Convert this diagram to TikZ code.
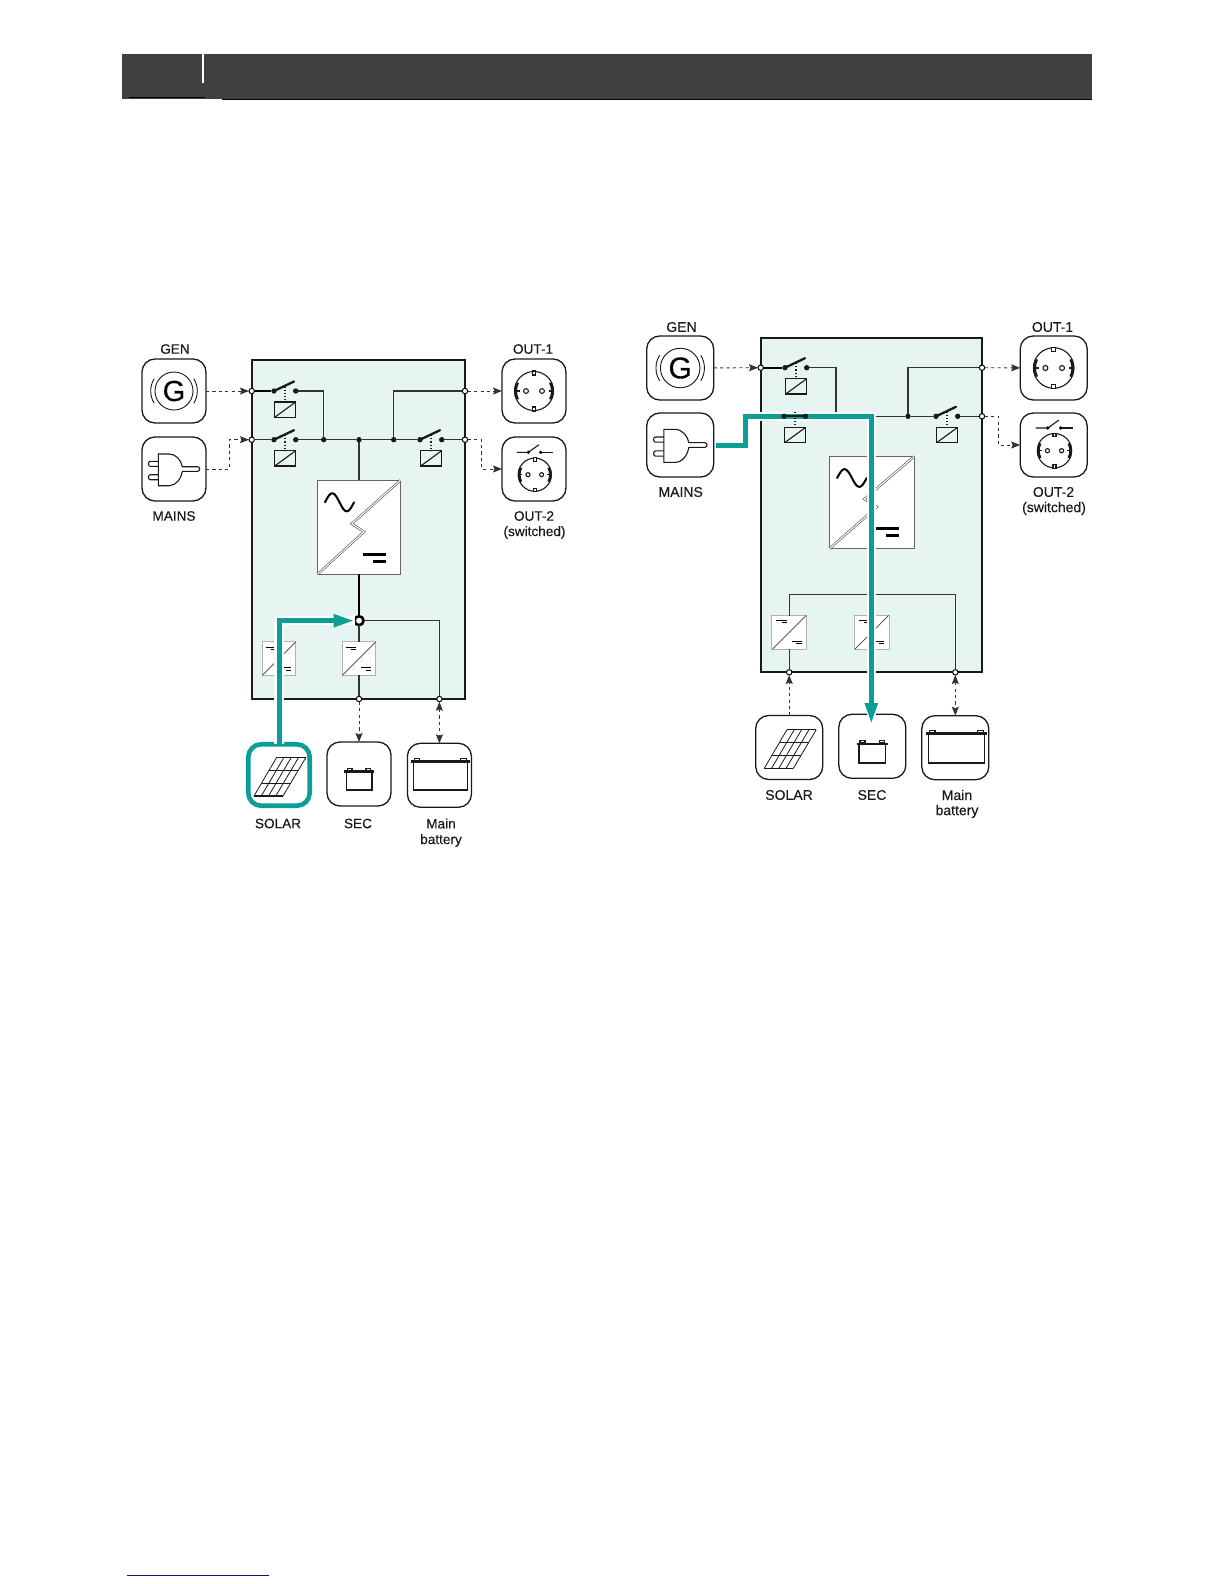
\documentclass[tikz,border=0pt]{standalone}
\usepackage{fontspec}
\setmainfont{Liberation Sans}
\newfontfamily\lblfont[FakeBold=0.25]{Liberation Sans}
\usepackage{tikz}
\usetikzlibrary{arrows.meta, calc}
\definecolor{flowteal}{HTML}{0B9E96}
\definecolor{boxmint}{HTML}{E6F5F2}
\definecolor{headgrey}{HTML}{404040}
\definecolor{linkblue}{HTML}{10108F}
\tikzset{
    frame/.style={draw=black!90,fill=boxmint,line width=2,minimum width=#1,inner sep=0,outer sep=0},
    tile/.style={draw=black!90,line width=1.3,rounded corners=13,minimum width=64,minimum height=64,inner sep=0,outer sep=0},
    lbl/.style={font=\lblfont\fontsize{13.6}{16}\selectfont,text=black!90,inner sep=0},
    rlbl/.style={lbl,font=\lblfont\fontsize{14}{16}\selectfont},
    wire/.style={draw=black!80,line width=1.2},
    boldwire/.style={draw=black,line width=2},
    blade/.style={draw=black!90,line width=2.3,line cap=round},
    icon/.style={draw=black!90,line width=1.1},
    jdot/.style={circle,fill=black!90,minimum size=5.4,inner sep=0,outer sep=0},
    termdot/.style={circle,draw=black,fill=white,line width=1,minimum size=5.4,inner sep=0,outer sep=0},
    dashflow/.style={draw=black!80,line width=.9,dash pattern=on 3.2pt off 3.2pt,-{Stealth[length=9pt,width=7pt,inset=1.5pt]}},
    bothflow/.style={dashflow,{Stealth[length=9pt,width=7pt,inset=1.5pt]}-{Stealth[length=9pt,width=7pt,inset=1.5pt]}},
    flowhalo/.style={draw=white,line width=9.5},
    flowline/.style={draw=flowteal,line width=5,-{Triangle[length=21pt,width=12pt]}},
    convbox/.style={draw=black!30,fill=white,line width=1,minimum width=33.5,minimum height=33.5,inner sep=0,outer sep=0},
    invbox/.style={draw=black!60,fill=white,line width=.9,minimum width=83,minimum height=94,inner sep=0,outer sep=0},
    pics/relaybox/.style={code={
        \draw[icon,dotted,line width=1.3] (11,-4.5) -- (11,11);
        \draw[icon,line width=1.3] (.7,11) rectangle (21.7,26.3);
        \draw[icon,line width=1.1] (.7,26.3) -- (21.7,11);
    }},
    pics/genicon/.style={code={
        \draw[icon,line width=.9] (0,0) circle[radius=19];
        \foreach \a in {0,180}{
            \draw[icon,line width=.9] (\a-32:23.3) arc[start angle=\a-32,end angle=\a+32,radius=23.3];
        }
        \node[font=\lblfont\fontsize{29}{29}\selectfont,inner sep=0,transform shape] (-g) at (0,0) {G};
    }},
    pics/plugicon/.style={code={
        \draw[icon] (-15.7,-15) -- (-5,-15) .. controls (2,-15) and (7,-9) .. (8.3,-2.3) -- (23.5,-2.3) .. controls (26.5,-2.3) and (26.5,2.3) .. (23.5,2.3) -- (8.3,2.3) .. controls (7,10) and (2,16.7) .. (-5,16.7) -- (-15.7,16.7) -- cycle;
        \draw[icon,rounded corners=2] (-15.7,-7.7) -- (-25.5,-7.7) -- (-25.5,-2.7) -- (-15.7,-2.7);
        \draw[icon,rounded corners=2] (-15.7,5.7) -- (-25.5,5.7) -- (-25.5,10.7) -- (-15.7,10.7);
    }},
    pics/socketicon/.style={code={
        \draw[icon] (0,0) circle[radius=19.5];
        \foreach \s in {-1,1}{
            \draw[icon] (\s*8,0) circle[radius=2.4];
            \draw[icon,fill=white] (-1.7,\s*20) rectangle (1.7,\s*16);
            \draw[icon,line width=1.4] (\s*19.5,0) -- (\s*14.5,0);
        }
        \foreach \a in {0,180}{
            \draw[icon,line width=2.8] (\a-27:18.4) arc[start angle=\a-27,end angle=\a+27,radius=18.4];
        }
    }},
    pics/swsign/.style={code={
        \draw[icon] (-17.3,0) -- (-5.7,0) -- (5,-7.6);
        \draw[icon] (6.7,0) -- (19,0);
        \fill[black] (-5.7,0) circle[radius=1.8] (6.7,0) circle[radius=1.8];
    }},
    pics/solaricon/.style={code={
        \foreach \t in {0,.25,.5,.75,1}{
            \draw[icon,line width=.8] (-2.3+29.3*\t,-17.7) -- (-25+29*\t,21);
        }
        \foreach \t in {0,.333,.667,1}{
            \draw[icon,line width=1.1] (-2.3-22.7*\t,-17.7+38.7*\t) -- (27-23*\t,-17.7+38.7*\t);
        }
    }},
    pics/secicon/.style={code={
        \draw[icon,line width=1.4] (-12.8,-2.3) rectangle (12.8,16);
        \draw[icon,line width=2.6] (-15,-2.3) -- (15,-2.3);
        \draw[icon] (-11.8,-5.6) rectangle (-7,-3.4) (7,-5.6) rectangle (11.8,-3.4);
    }},
    pics/batticon/.style={code={
        \draw[icon,line width=1.4] (-27,-12.6) rectangle (27,14.7);
        \draw[icon,line width=2.6] (-29.4,-13.6) -- (29.4,-13.6);
        \draw[icon] (-26,-16.8) rectangle (-20.5,-14.6) (20.5,-16.8) rectangle (26,-14.6);
    }},
    pics/invicon/.style={code={
        \draw[draw=black!70,double=white,double distance=1.1,line width=.6] (41.5,-47) -- (-7.3,-3.5) -- (5,4.5) -- (-41.5,47);
        \draw[black,line width=2,line cap=round,smooth] plot[domain=0:360,samples=30] ({-34+\x/360*29},{-25-9*sin(\x)});
        \draw[black,line width=3] (3.7,27) -- (27,27);
        \draw[black,line width=3] (14.3,34) -- (27,34);
    }},
    pics/convicon/.style={code={
        \draw[draw=black!75,line width=.7] (-16.7,16.7) -- (16.7,-16.7);
        \draw[black,line width=1] (-13.3,-11.7) -- (-2.7,-11.7) (-7.7,-9.7) -- (-2.7,-9.7);
        \draw[black,line width=1] (2.3,8.7) -- (12.3,8.7) (6.7,11.3) -- (12.3,11.3);
    }},
}
\newcommand{\SwitchOpen}[3]{
    \node[jdot] (#1a) at (#2,#3) {};
    \node[jdot] (#1b) at ($(#1a)+(21.7,0)$) {};
    \draw[blade] (#1a.center) -- ++(20,-9.5);
    \pic at (#1a) {relaybox};
}
\begin{document}
\begin{tikzpicture}[x=1pt,y=-1pt]
    \useasboundingbox (0,0) rectangle (1224,1584);
    % page header and footer rule
    \fill[headgrey] (122,54) rectangle (1092,99.3);
    \draw[black,line width=.5] (129,97) -- (205,97);
    \draw[black,line width=.8] (222,99) -- (1092,99);
    \draw[white,line width=1.6] (202.7,54) -- (202.7,83);
    \draw[linkblue,line width=1] (126.7,1575.3) -- (268.7,1575.3);

    % ---- left panel
    \node[frame=213.3,minimum height=339] (Lbox) at (358.4,529.5) {};
    \node[tile] (Lgen) at (174,391) {};
    \node[tile] (Lmains) at (174,469) {};
    \node[tile] (Lout1) at (534,391) {};
    \node[tile] (Lout2) at (534,469) {};
    \node[tile,draw=flowteal,line width=4.6,minimum width=61.5,minimum height=61.5] (Lsolar) at (279,775) {};
    \node[tile] (Lsec) at (359,774) {};
    \node[tile] (Lmainb) at (439.4,775.3) {};
    \pic (Lgi) at (Lgen) {genicon};
    \pic at (Lmains) {plugicon};
    \pic at (Lout1) {socketicon};
    \pic[scale=.85] at ($(Lout2)+(.8,5.7)$) {socketicon};
    \pic at ($(Lout2)+(0,-16.7)$) {swsign};
    \pic at (Lsolar) {solaricon};
    \pic at (Lsec) {secicon};
    \pic at ($(Lmainb)+(1,0)$) {batticon};

    \node[termdot] (Lt1) at (251.7,391) {};
    \node[termdot] (Lt2) at (251.7,439.7) {};
    \node[termdot] (Lt3) at (465,391) {};
    \node[termdot] (Lt4) at (465,439.7) {};
    \node[termdot] (Lt5) at (359,699) {};
    \node[termdot] (Lt6) at (439.4,699) {};
    \node[jdot] (Lj1) at (323.7,439.7) {};
    \node[jdot] (Lj2) at (359,439.7) {};
    \node[jdot] (Lj3) at (393.7,439.7) {};
    \SwitchOpen{Ls1}{274}{391}
    \SwitchOpen{Ls2}{274}{439.7}
    \SwitchOpen{Ls3}{420}{439.7}
    \node[invbox] (Linv) at (359,527.3) {};
    \pic at (Linv) {invicon};
    \node[convbox] (Lc1) at (279,658.7) {};
    \node[convbox] (Lc2) at (359,658.7) {};
    \pic at (Lc1) {convicon};
    \pic at (Lc2) {convicon};
    \coordinate (Lmb) at (229.3,439.7);
    \coordinate (Lob) at (481.7,469);

    \draw[boldwire] (Lt1) -- (Ls1a);
    \draw[wire,line width=1.4] (Ls1b) -| (Lj1);
    \draw[wire] (Lt2) -- (Ls2a);
    \draw[wire] (Ls2b) -- (Lj1) -- (Lj2) -- (Lj3) -- (Ls3a);
    \draw[wire] (Ls3b) -- (Lt4);
    \draw[wire,line width=1.4] (Lj3) |- (Lt3);
    \draw[wire] (Lj2) -- (Linv);
    \node[circle,draw=black,fill=white,line width=2.6,minimum size=9,inner sep=0,outer sep=0] (Lhub) at (359,620.7) {};
    \draw[draw=black,line width=2.6] (Linv) -- (Lhub);
    \draw[wire] (Lhub) -| (Lt6);
    \draw[wire,line width=1.4] (Lhub) -- (Lc2);
    \draw[wire,line width=1.4] (Lc2) -- (Lt5);
    \draw[dashflow] (Lgen) -- (Lt1);
    \draw[dashflow] (Lmains) -| (Lmb) -- (Lt2);
    \draw[dashflow] (Lt3) -- (Lout1);
    \draw[dashflow] (Lt4) -| (Lob) -- (Lout2);
    \draw[dashflow] (Lt5) -- (Lsec);
    \draw[bothflow] (Lt6) -- (Lmainb);
    \draw[flowhalo] (Lsolar.north) |- (Lhub.west);
    \draw[flowline] (Lsolar.north) |- (Lhub.west);

    \node[lbl] (Lgent) at (175,349) {GEN};
    \node[lbl] (Lmainst) at (174,516) {MAINS};
    \node[lbl] (Lout1t) at (533,349) {OUT-1};
    \node[lbl] (Lout2t) at (534,516) {OUT-2};
    \node[lbl] (Lswt) at (534.5,532.5) {(switched)};
    \node[lbl] (Lsolart) at (278,823.5) {SOLAR};
    \node[lbl] (Lsect) at (358,823.5) {SEC};
    \node[lbl] (Lmaint) at (441,823.5) {Main};
    \node[lbl] (Lbatt) at (441,840.5) {battery};

    % ---- right panel
    \node[frame=221.3,minimum height=334.6] (Rbox) at (871.4,505) {};
    \node[tile,minimum width=67] (Rgen) at (680.2,368) {};
    \node[tile,minimum width=67] (Rmains) at (680.2,445) {};
    \node[tile,minimum width=67] (Rout1) at (1053.7,368) {};
    \node[tile,minimum width=67] (Rout2) at (1053.7,445) {};
    \node[tile,minimum width=67] (Rsolar) at (789.2,747.5) {};
    \node[tile,minimum width=67] (Rsec) at (872.3,746.3) {};
    \node[tile,minimum width=67] (Rmainb) at (955.3,747.7) {};
    \pic[scale=1.04] (Rgi) at (Rgen) {genicon};
    \pic[scale=1.04] at (Rmains) {plugicon};
    \pic[scale=1.04] at (Rout1) {socketicon};
    \pic[scale=.88] at ($(Rout2)+(.8,5.7)$) {socketicon};
    \pic[scale=1.04] at ($(Rout2)+(0,-17)$) {swsign};
    \pic at (Rsolar) {solaricon};
    \pic[scale=1.04] at (Rsec) {secicon};
    \pic[scale=1.04] at ($(Rmainb)+(1,0)$) {batticon};

    \node[termdot] (Rt1) at (760.7,367.7) {};
    \node[termdot] (Rt3) at (982,367.7) {};
    \node[termdot] (Rt4) at (982,416.3) {};
    \node[termdot] (Rt5) at (789.2,672.3) {};
    \node[termdot] (Rt6) at (955.3,672.3) {};
    \node[jdot] (Rj1) at (836,416.3) {};
    \node[jdot] (Rj3) at (908,416.3) {};
    \SwitchOpen{Rs1}{785}{367.7}
    \SwitchOpen{Rs3}{936}{416.3}
    \node[invbox,minimum width=85,minimum height=92.4] (Rinv) at (871.8,502.5) {};
    \pic[xscale=1.02,yscale=.98] at (Rinv) {invicon};
    \node[convbox,minimum width=34.7] (Rc1) at (789.2,632.3) {};
    \node[convbox,minimum width=35] (Rc2) at (871.8,632.3) {};
    \pic at (Rc1) {convicon};
    \pic at (Rc2) {convicon};
    \coordinate (Rbus) at (955.3,594.7);
    \coordinate (Rob) at (998.7,445);
    \coordinate (Rm1) at (745,445.3);
    \coordinate (Rm2) at (745,416.3);
    \coordinate (Rm3) at (871.3,416.3);
    \coordinate (Rm4) at (871.3,724);
    \coordinate (Rm0) at (716,445.3);

    \draw[boldwire] (Rt1) -- (Rs1a);
    \draw[wire] (Rs1b) -| (Rj1);
    \draw[wire] (Rj1) -- (Rj3) -- (Rs3a);
    \draw[wire] (Rs3b) -- (Rt4);
    \draw[wire,line width=1.4] (Rj3) |- (Rt3);
    \draw[wire,line width=1.4] (Rc1) |- (Rbus) -- (Rt6);
    \draw[wire,line width=1.4] (Rc1) -- (Rt5);
    \draw[dashflow] (Rgen) -- (Rt1);
    \draw[dashflow] (Rt3) -- (Rout1);
    \draw[dashflow] (Rt4) -| (Rob) -- (Rout2);
    \draw[dashflow] (Rsolar) -- (Rt5);
    \draw[bothflow] (Rt6) -- (Rmainb);
    \draw[flowhalo] (Rm1) -- (Rm2) -- (Rm3) -- (Rm4);
    \draw[flowline] (Rm0) -- (Rm1) -- (Rm2) -- (Rm3) -- (Rm4);
    % closed switch sits on top of the flow
    \node[jdot] (Rs2a) at (784,416.3) {};
    \node[jdot] (Rs2b) at (805.5,416.3) {};
    \draw[blade] (Rs2a) -- (Rs2b);
    \pic at (Rs2a) {relaybox};

    \node[rlbl] (Rgent) at (681.5,327) {GEN};
    \node[rlbl] (Rmainst) at (680.7,492) {MAINS};
    \node[rlbl] (Rout1t) at (1052.5,327) {OUT-1};
    \node[rlbl] (Rout2t) at (1053.5,492) {OUT-2};
    \node[rlbl] (Rswt) at (1054,508.5) {(switched)};
    \node[rlbl] (Rsolart) at (789,795) {SOLAR};
    \node[rlbl] (Rsect) at (872,795) {SEC};
    \node[rlbl] (Rmaint) at (957,795) {Main};
    \node[rlbl] (Rbatt) at (957,811.5) {battery};
\end{tikzpicture}
\end{document}
